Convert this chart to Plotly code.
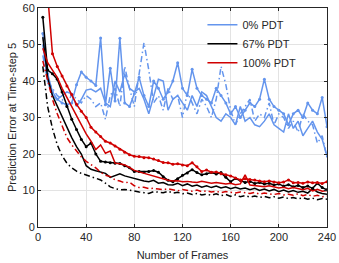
import plotly.graph_objects as go

frames = [4, 8, 12, 16, 20, 24, 28, 32, 36, 40,
          44, 48, 52, 56, 60, 64, 68, 72, 76, 80,
          84, 88, 92, 96, 100, 104, 108, 112, 116, 120,
          124, 128, 132, 136, 140, 144, 148, 152, 156, 160,
          164, 168, 172, 176, 180, 184, 188, 192, 196, 200,
          204, 208, 212, 216, 220, 224, 228, 232, 236, 240]

# 0% PDT (blue)
blue_a = [53, 42, 37, 35, 34, 33.5, 34, 39, 42.5, 41,
          40, 38.8, 51.8, 33.5, 43.5, 34.5, 51.7, 34, 33, 36.5,
          41, 36, 33, 40, 38, 35, 37, 40, 45, 38,
          36, 43.2, 38, 36, 35, 34, 38, 36, 34, 31,
          33, 30, 32, 34, 33, 35, 40.5, 35, 33, 32,
          31, 28, 31, 32, 30, 34, 32, 31, 35.5, 27.5]
blue_b = [50, 40, 36, 35, 36, 37, 36.5, 33, 35, 37.5,
          37.8, 37, 38, 34, 33, 40, 37, 42, 38, 37,
          38, 35, 31, 36, 40.5, 40, 32, 35, 36, 34,
          32, 36, 33, 37, 36, 33, 30, 29, 31, 30,
          28, 33, 29, 30, 28, 27.5, 29, 31, 28, 27,
          26, 31, 27, 29, 25, 27, 29, 26, 24, 19.5]
blue_c = [47, 40, 38, 36, 35, 33, 36.5, 35, 34, 36,
          35, 33, 34, 29.5, 36, 38, 33, 44, 38, 33,
          42, 50.5, 43, 34, 36, 32, 38, 35, 36, 30,
          37, 34, 31, 35, 33, 30, 35, 44, 39, 32,
          28, 31, 33, 35, 29, 31, 30, 34, 28, 31,
          30, 27, 29, 26, 31, 29, 28, 23, 25, 19]

# 67% PDT (black)
black_a = [57.5, 43, 42, 40.5, 37, 33, 29.5, 26.7, 24, 22,
           23, 20, 18, 17.8, 17.6, 17.5, 17.4, 16.8, 16.2, 15.2,
           15.2, 15.0, 15.2, 15.5, 15.0, 13.8, 12.8, 12.4, 13.2, 14.2,
           14.8, 15.7, 14.9, 14.3, 14.6, 14.9, 14.5, 14.9, 13.6, 12.4,
           13.3, 12.8, 12.2, 12.5, 11.9, 12.2, 11.8, 12.0, 11.5, 11.8,
           11.2, 11.6, 11.0, 11.4, 10.8, 11.2, 10.6, 12.0, 10.8, 10.2]
black_b = [52, 41, 36, 33, 30, 27.5, 24.5, 22, 20, 16.8,
           15.8, 15.4, 15, 14.7, 13.6, 14.2, 14.6, 14.0, 13.6, 13.4,
           13.0, 12.6, 12.4, 12.8, 12.0, 12.2, 11.6, 11.5, 12.0, 11.3,
           11.8, 11.2, 11.5, 10.9, 11.3, 10.8, 11.2, 10.7, 11.0, 10.5,
           10.9, 10.4, 10.7, 10.2, 10.6, 10.0, 10.4, 9.9, 10.3, 9.7,
           10.1, 9.6, 10.0, 9.5, 9.8, 9.3, 10.5, 9.6, 9.2, 9.0]
black_c = [44, 33, 27, 22.5, 19.5, 17.5, 16.2, 15.3, 14.7, 14.2,
           13.8, 13.2, 12.9, 12.0, 11.0, 10.5, 10.2, 10.3, 10.0, 9.8,
           9.6, 9.4, 9.2, 9.7, 9.6, 9.4, 9.8, 9.3, 9.5, 9.1,
           9.3, 8.9, 9.2, 8.8, 9.0, 8.7, 9.1, 8.6, 8.9, 8.4,
           8.8, 8.3, 8.6, 8.2, 8.5, 8.1, 8.4, 8.0, 8.3, 7.9,
           8.2, 7.8, 8.1, 7.7, 8.0, 7.6, 7.9, 7.5, 7.8, 7.6]

# 100% PDT (red)
red_a = [80, 64, 47.5, 44, 41.4, 38.6, 36.3, 33.6, 31.7, 30,
         27.3, 26, 24.8, 23.5, 23, 22.2, 21.3, 20.5, 19.8, 19.4,
         19.3, 19, 19, 18.6, 18.2, 17.7, 17.6, 17.2, 17.3, 17,
         16.8, 17.6, 16.5, 15.2, 15.6, 15.0, 15.1, 14.6, 14.3, 14.0,
         13.4, 12.9, 13.2, 13.0, 12.9, 12.6, 12.4, 12.6, 12.3, 12.1,
         12.3, 12.9, 12.1, 12.2, 12.0, 12.3, 12.1, 12.2, 11.9, 12.4]
red_b = [49, 45, 43, 41, 38, 35.5, 33, 30.5, 28, 25.5,
         23.5, 21.2, 22.5, 20.2, 20.8, 17.5, 17.3, 17, 16.3, 15.5,
         15.1, 14.7, 14.3, 13.9, 13.5, 13.1, 12.8, 12.6, 12.7, 12.4,
         12.5, 12.3, 12.2, 12.5, 12.3, 12.0, 12.2, 12.0, 11.8, 12.0,
         11.6, 11.8, 14.3, 11.5, 11.3, 11.2, 11.0, 11.3, 10.9, 10.7,
         10.9, 10.5, 10.8, 10.4, 10.2, 10.6, 9.9, 10.3, 9.8, 10.0]
red_c = [45.5, 40, 35, 31, 27.5, 24.5, 22.5, 20.7, 19.2, 18,
         17.2, 16.2, 15, 14.2, 13.8, 12.9, 12.6, 12.1, 12.3, 11.3,
         10.8, 10.9, 10.5, 10.6, 10.4, 10.2, 10.5, 10.1, 9.9, 10.3,
         10.0, 9.8, 10.1, 9.7, 9.9, 9.6, 9.8, 9.4, 9.7, 9.5,
         9.3, 9.6, 9.4, 9.2, 9.5, 9.0, 9.3, 9.1, 8.9, 9.2,
         8.8, 9.0, 8.7, 9.1, 8.6, 8.9, 8.4, 8.7, 8.3, 8.5]

BLUE = "#6495ED"
BLACK = "#000000"
RED = "#D00000"
DASHDOT = "6px,3px,1.5px,3px"
FONT = "Liberation Sans, Arial, sans-serif"

fig = go.Figure()

groups = [
    ("0% PDT", BLUE, blue_a, blue_b, blue_c),
    ("67% PDT", BLACK, black_a, black_b, black_c),
    ("100% PDT", RED, red_a, red_b, red_c),
]

for name, col, a, b, c in groups:
    fig.add_trace(go.Scatter(x=frames, y=b, mode="lines", name=name,
                             line=dict(color=col, width=1.5), showlegend=True))
    fig.add_trace(go.Scatter(x=frames, y=a, mode="lines+markers", name=name,
                             line=dict(color=col, width=1.5),
                             marker=dict(color=col, size=3), showlegend=False))
    fig.add_trace(go.Scatter(x=frames, y=c, mode="lines", name=name,
                             line=dict(color=col, width=1.5, dash=DASHDOT),
                             showlegend=False))

axis_common = dict(
    showline=True, linecolor="#262626", linewidth=1, mirror="allticks",
    ticks="inside", ticklen=3, tickcolor="#262626",
    showgrid=True, gridcolor="#E3E3E3", gridwidth=1,
    zeroline=False, automargin=False,
    tickfont=dict(family=FONT, size=11, color="#262626"),
)

fig.update_xaxes(range=[0, 240], tickvals=[0, 40, 80, 120, 160, 200, 240],
                 title=dict(text="Number of Frames", standoff=9,
                            font=dict(family=FONT, size=11, color="#262626")),
                 **axis_common)
fig.update_yaxes(range=[0, 60], tickvals=[0, 10, 20, 30, 40, 50, 60],
                 title=dict(text="Prediction Error at Time-step 5", standoff=3,
                            font=dict(family=FONT, size=11, color="#262626")),
                 **axis_common)

fig.update_layout(
    width=339, height=263,
    margin=dict(l=38, r=12, t=8, b=36),
    paper_bgcolor="white", plot_bgcolor="white",
    legend=dict(x=0.569, y=0.99, xanchor="left", yanchor="top",
                bgcolor="rgba(0,0,0,0)", borderwidth=0,
                font=dict(family=FONT, size=11, color="#262626"),
                tracegroupgap=0),
)

fig.write_html("out.html", config={"displayModeBar": False},
               post_script="document.body.style.margin='0px';")
